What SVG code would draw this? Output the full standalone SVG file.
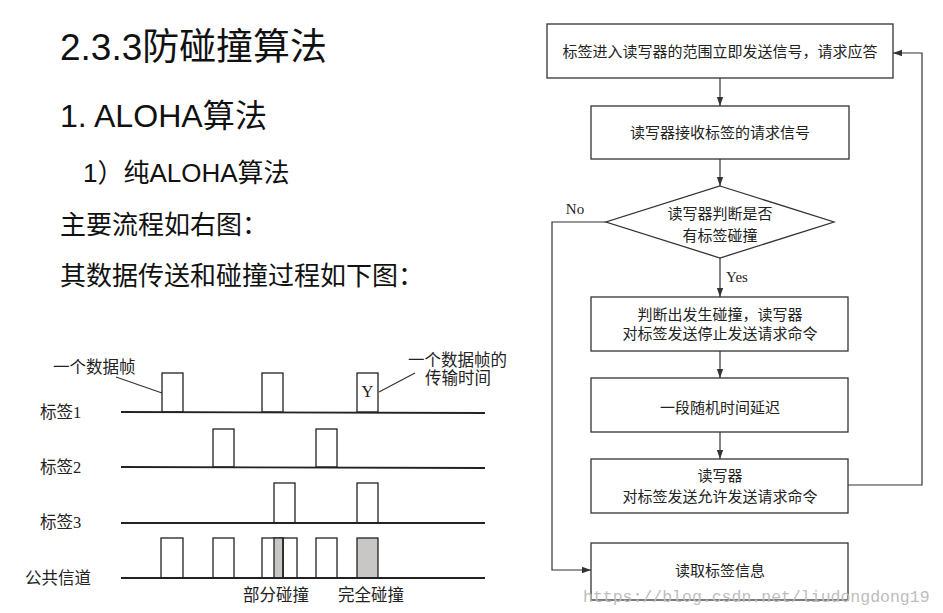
<svg xmlns="http://www.w3.org/2000/svg" width="943" height="613" viewBox="0 0 943 613">
<style>
text{font-family:"Liberation Sans","Noto Sans CJK SC",sans-serif;fill:#111}
.fc{font-family:"Liberation Serif","Noto Sans CJK SC",serif;font-size:15px;text-anchor:middle;dominant-baseline:central;fill:#222}
.td{font-family:"Liberation Serif","Noto Sans CJK SC",serif;font-size:16.5px;dominant-baseline:central;fill:#222}
.box{fill:#fff;stroke:#333;stroke-width:1.3}
.ln{fill:none;stroke:#333;stroke-width:1.2}
.fr{fill:#fff;stroke:#222;stroke-width:1.3}
.gr{fill:#c9c6c6;stroke:#222;stroke-width:1.3}
.base{stroke:#222;stroke-width:1.8}
</style>
<defs>
<marker id="ah" viewBox="0 0 10 10" refX="10" refY="5" markerWidth="12" markerHeight="9" markerUnits="userSpaceOnUse" orient="auto">
<path d="M0,1.5 L10,5 L0,8.5 Z" fill="#333"/>
</marker>
</defs>
<rect width="943" height="613" fill="#fff"/>

<g id="headings">
<text x="60" y="60" font-size="37" textLength="267" lengthAdjust="spacingAndGlyphs">2.3.3防碰撞算法</text>
<text x="60" y="127" font-size="32" textLength="207" lengthAdjust="spacingAndGlyphs">1. ALOHA算法</text>
<text x="83" y="182" font-size="26">1）纯ALOHA算法</text>
<text x="60" y="234" font-size="26">主要流程如右图：</text>
<text x="60" y="285" font-size="26">其数据传送和碰撞过程如下图：</text>
</g>

<g id="flowchart">
<g id="n1"><rect class="box" x="547" y="24" width="346" height="54"/><text class="fc" x="720" y="52">标签进入读写器的范围立即发送信号，请求应答</text></g>
<g id="n2"><rect class="box" x="591" y="106" width="258" height="53"/><text class="fc" x="720" y="133">读写器接收标签的请求信号</text></g>
<g id="n3"><polygon class="box" points="720,186 834,222 720,258 606,222"/><text class="fc" x="720" y="214">读写器判断是否</text><text class="fc" x="720" y="236">有标签碰撞</text></g>
<g id="n4"><rect class="box" x="591" y="297" width="257" height="54"/><text class="fc" x="720" y="315">判断出发生碰撞，读写器</text><text class="fc" x="720" y="334">对标签发送停止发送请求命令</text></g>
<g id="n5"><rect class="box" x="591" y="378" width="257" height="54"/><text class="fc" x="720" y="408">一段随机时间延迟</text></g>
<g id="n6"><rect class="box" x="591" y="459" width="257" height="54"/><text class="fc" x="720" y="476">读写器</text><text class="fc" x="720" y="497">对标签发送允许发送请求命令</text></g>
<g id="n7"><rect class="box" x="591" y="543" width="257" height="57"/><text class="fc" x="720" y="571">读取标签信息</text></g>
</g>

<g id="connectors">
<line class="ln" x1="720" y1="78" x2="720" y2="106" marker-end="url(#ah)"/>
<line class="ln" x1="720" y1="159" x2="720" y2="186" marker-end="url(#ah)"/>
<line class="ln" x1="720" y1="258" x2="720" y2="297" marker-end="url(#ah)"/>
<line class="ln" x1="720" y1="351" x2="720" y2="378" marker-end="url(#ah)"/>
<line class="ln" x1="720" y1="432" x2="720" y2="459" marker-end="url(#ah)"/>
<polyline class="ln" points="606,222 552,222 552,570 591,570" marker-end="url(#ah)"/>
<polyline class="ln" points="848,485 922,485 922,53 893,53" marker-end="url(#ah)"/>
<text class="fc" x="575" y="209">No</text>
<text class="fc" x="737" y="277">Yes</text>
</g>

<g id="timing">
<text class="td" x="53" y="367">一个数据帧</text>
<line class="ln" x1="116" y1="377" x2="162" y2="393"/>
<text class="td" x="408" y="360">一个数据帧的</text>
<text class="td" x="425" y="378">传输时间</text>
<line class="ln" x1="415" y1="373" x2="379" y2="392"/>

<text class="td" x="40" y="412">标签1</text>
<text class="td" x="40" y="467">标签2</text>
<text class="td" x="40" y="522">标签3</text>
<text class="td" x="25" y="578">公共信道</text>

<rect class="fr" x="162" y="373" width="21" height="39"/>
<rect class="fr" x="262" y="373" width="21" height="39"/>
<rect class="fr" x="357" y="373" width="21" height="39"/>
<text class="td" x="367.5" y="391" text-anchor="middle">Y</text>
<line class="base" x1="121" y1="412" x2="485" y2="413"/>

<rect class="fr" x="213" y="429" width="21" height="38"/>
<rect class="fr" x="316" y="429" width="21" height="38"/>
<line class="base" x1="121" y1="467" x2="485" y2="468"/>

<rect class="fr" x="274" y="483" width="21" height="40"/>
<rect class="fr" x="357" y="483" width="21" height="40"/>
<line class="base" x1="121" y1="523" x2="485" y2="523"/>

<rect class="fr" x="161" y="538" width="22" height="40"/>
<rect class="fr" x="213" y="538" width="21" height="40"/>
<rect class="fr" x="262" y="538" width="21" height="40"/>
<rect class="gr" x="274" y="538" width="9" height="40"/>
<rect x="283" y="538" width="14" height="40" fill="none" stroke="#222" stroke-width="1.3"/>
<rect class="fr" x="316" y="538" width="21" height="40"/>
<rect class="gr" x="357" y="538" width="21" height="40"/>
<line class="base" x1="121" y1="578" x2="485" y2="578"/>

<text class="td" x="243" y="595">部分碰撞</text>
<text class="td" x="338" y="595">完全碰撞</text>
</g>

<text x="583" y="602" font-size="16.5" style="fill:#bdbdbd;font-family:'Liberation Mono',monospace">https://blog.csdn.net/liudongdong19</text>
</svg>
